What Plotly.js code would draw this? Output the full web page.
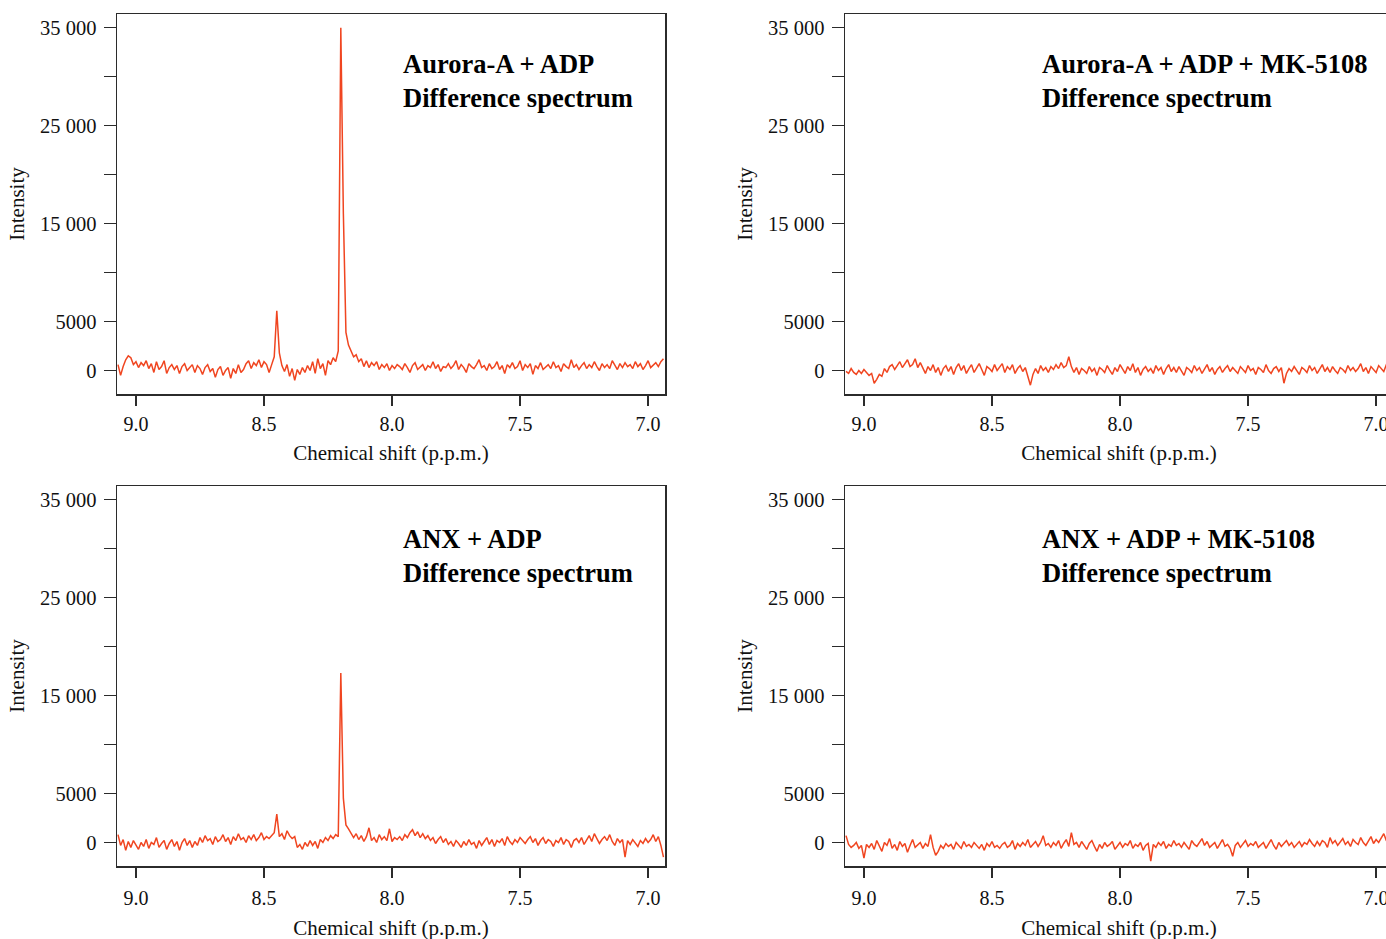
<!DOCTYPE html>
<html>
<head>
<meta charset="utf-8">
<script src="https://cdn.plot.ly/plotly-3.0.1.min.js"></script>
<style>
html,body{margin:0;padding:0;overflow:hidden;background:#fff;}
#chart{width:1400px;height:950px;}
</style>
</head>
<body>
<div id="chart"></div>
<script>
// Sampling grid of the spectra (chemical shift, p.p.m.)
const ppmStart = 9.07;
const ppmStep = 0.01;

// Panel titles
const panelTitles = [
  "Aurora-A + ADP<br>Difference spectrum",
  "Aurora-A + ADP + MK-5108<br>Difference spectrum",
  "ANX + ADP<br>Difference spectrum",
  "ANX + ADP + MK-5108<br>Difference spectrum"
];

// Intensities, one value per grid point (9.07 -> 6.94 p.p.m.)
const auroraADP = [
  600,-500,400,1100,1500,1300,600,900,300,800,
  500,1000,200,700,-200,900,100,400,1000,-300,
  300,600,100,500,-300,400,700,0,300,600,
  -200,500,200,-400,300,600,-100,200,-700,100,
  400,-500,0,300,-800,200,-300,600,-200,100,
  700,1000,200,800,500,1100,300,900,600,-200,
  600,1400,6100,1800,500,-100,600,-600,200,-1000,
  100,-400,300,-200,500,0,900,-300,1200,200,
  700,-500,1000,600,1300,900,2000,35000,16000,3900,
  2600,2000,1400,1600,900,1200,400,1000,300,800,
  500,900,100,600,300,700,0,500,200,600,
  400,100,700,300,-200,500,800,100,400,600,
  0,500,300,900,200,600,-100,400,300,700,
  200,500,1000,100,600,300,-200,700,400,200,
  600,1100,300,500,0,700,200,400,900,100,
  500,-300,600,300,800,200,400,1000,0,600,
  300,700,-400,500,200,800,100,400,600,200,
  900,300,500,-100,700,400,200,1100,300,600,
  100,500,800,200,600,300,900,400,0,700,
  300,600,200,1000,500,100,700,300,800,400,
  600,200,900,400,700,100,500,1000,300,600,
  800,400,900,1200
];

const auroraADPMK = [
  -100,-300,200,-200,-400,0,-300,100,-200,-500,
  -300,-1300,-900,-400,-600,200,-200,400,600,100,
  500,900,300,700,1100,400,600,1200,300,800,
  200,-300,400,0,600,-200,300,-500,200,500,
  -100,400,-400,300,700,0,500,-300,200,600,
  -200,300,700,100,-500,400,200,-100,600,0,
  300,700,-200,400,100,600,-300,200,500,-100,
  300,-600,-1500,-400,200,-300,500,0,300,-200,
  400,100,600,200,800,300,500,1400,400,-200,
  300,-400,200,0,-300,400,-100,200,-500,300,
  100,-200,500,0,-400,300,-100,600,200,-300,
  400,0,700,-200,300,-500,100,400,-100,200,
  -300,500,0,300,-400,200,600,-100,300,-200,
  400,0,-500,300,100,-200,500,0,300,-300,
  200,600,-100,300,-400,100,400,-200,200,500,
  -100,300,0,-300,400,100,-200,500,0,200,
  -400,300,100,-200,600,0,-300,200,400,-100,
  300,-1300,-300,200,-100,400,0,-400,300,100,
  -200,500,0,300,-300,200,600,-100,300,-200,
  400,0,-300,300,100,-200,500,0,300,-100,
  200,700,-100,300,-300,400,100,-200,500,200,
  -100,600,300,100
];

const anxADP = [
  800,-300,300,-800,100,-500,200,-300,-700,0,
  -400,300,-600,0,-200,500,-500,-100,200,-700,
  -100,300,-400,100,-800,0,400,-300,200,-500,
  100,-300,500,0,700,200,400,-200,600,100,
  300,800,100,500,-200,600,200,900,300,500,
  0,700,300,800,200,500,1000,300,600,400,
  700,1000,2900,600,900,300,1200,700,400,600,
  -500,-200,-700,0,-400,200,-300,100,-600,300,
  0,500,200,700,400,800,600,17300,4500,1800,
  1400,1000,500,900,300,700,100,600,1500,200,
  500,0,800,300,600,200,1400,100,500,300,
  600,200,800,500,1000,1300,700,1100,500,900,
  400,700,200,500,-100,300,600,0,400,-200,
  100,-400,200,-100,-500,100,-300,300,-200,0,
  -600,200,-300,100,500,-200,300,-400,200,0,
  400,-300,600,100,-200,300,0,500,200,-100,
  300,600,0,400,-300,200,500,-100,300,100,
  -400,200,0,500,-200,300,100,-500,200,400,
  0,500,-200,300,700,100,900,400,-100,300,
  600,200,800,100,-300,400,0,300,-1500,200,
  -200,300,0,-400,200,-100,400,0,300,800,
  100,600,-300,-1500
];

const anxADPMK = [
  700,-200,-500,-300,0,-600,-300,-1600,-200,-500,
  -100,-700,200,-400,-900,0,-300,400,-600,-200,
  -800,100,-400,-100,-1000,-300,300,-500,-200,0,
  -600,-100,-400,800,-500,-1300,-900,-300,-600,-100,
  -400,-200,-700,0,-300,-600,100,-400,-200,-500,
  0,-300,-600,-200,-800,-100,-400,100,-500,-300,
  -600,-200,0,-500,-300,200,-700,-100,-400,0,
  -300,300,-500,-200,100,-400,0,700,-300,-100,
  -500,0,-300,200,-600,-100,300,-400,1000,-200,
  0,-500,100,-300,-700,-100,200,-400,-900,-200,
  -600,0,-400,-200,100,-700,-300,0,-500,-100,
  -300,200,-600,-200,-400,0,-800,-300,-100,-1900,
  -200,-500,0,-300,100,-600,-200,-400,200,-300,
  -100,-500,0,-300,-700,200,-200,-400,0,400,
  -300,100,-500,-200,0,-600,-100,300,-400,-200,
  -600,-1400,-300,0,-500,-200,200,-400,-100,-300,
  100,-500,-200,0,-600,-100,300,-300,-700,0,
  -400,-100,200,-300,0,-500,-200,100,-400,0,
  -200,300,-100,-400,100,-300,200,0,-500,500,
  -100,200,-300,0,400,-200,100,-400,300,0,
  -200,500,0,-300,200,600,-100,300,0,400,
  900,200,-100,300
];

// Axis ticks
const xTickVals = [9.0, 8.5, 8.0, 7.5, 7.0];
const xTickText = ["9.0", "8.5", "8.0", "7.5", "7.0"];
const yTickVals = [0, 5000, 10000, 15000, 20000, 25000, 30000, 35000];
const yTickText = ["0", "5000", "", "15 000", "", "25 000", "", "35 000"];

const series = [auroraADP, auroraADPMK, anxADP, anxADPMK];

const W = 1400, H = 950;
const serif = "Liberation Serif, Times New Roman, serif";
const lineColor = "#F04520";
const axisColor = "#2b2b2b";

const xDomains = [[117 / W, 665 / W], [845 / W, 1393 / W]];
const yDomains = [[1 - 394 / H, 1 - 14 / H], [1 - 866 / H, 1 - 486 / H]];

const traces = series.map((vals, k) => {
  const ppm = vals.map((_, i) => +(ppmStart - ppmStep * i).toFixed(3));
  return {
    x: ppm, y: vals, type: "scatter", mode: "lines",
    xaxis: k === 0 ? "x" : "x" + (k + 1),
    yaxis: k === 0 ? "y" : "y" + (k + 1),
    line: {color: lineColor, width: 1.5},
    hoverinfo: "x+y", showlegend: false
  };
});

const layout = {
  width: W, height: H,
  margin: {l: 0, r: 0, t: 0, b: 0},
  paper_bgcolor: "#fff", plot_bgcolor: "#fff",
  font: {family: serif, size: 20, color: "#111"},
  showlegend: false,
  annotations: []
};

const titleXs = [401, 1040];
const titleYs = [47, 522];

for (let k = 0; k < 4; k++) {
  const col = k % 2, row = Math.floor(k / 2);
  const sx = k === 0 ? "" : String(k + 1);
  layout["xaxis" + sx] = {
    domain: xDomains[col],
    anchor: "y" + sx,
    range: [9.074, 6.934],
    tickmode: "array", tickvals: xTickVals, ticktext: xTickText,
    ticks: "outside", ticklen: 10, tickwidth: 1.5, tickcolor: axisColor,
    showline: true, linecolor: axisColor, linewidth: 1.5, mirror: true,
    showgrid: false, zeroline: false,
    ticklabelstandoff: row === 1 ? 3 : 1,
    tickfont: {family: serif, size: 20, color: "#111"},
    title: {text: "Chemical shift (p.p.m.)", font: {family: serif, size: 21, color: "#111"}, standoff: row === 1 ? 13 : 12}
  };
  layout["yaxis" + sx] = {
    domain: yDomains[row],
    anchor: "x" + sx,
    range: [-2400, 36400],
    tickmode: "array", tickvals: yTickVals, ticktext: yTickText,
    ticks: "outside", ticklen: 12, tickwidth: 1.5, tickcolor: axisColor,
    showline: true, linecolor: axisColor, linewidth: 1.5, mirror: true,
    showgrid: false, zeroline: false,
    ticklabelstandoff: 3,
    tickfont: {family: serif, size: 20.5, color: "#111"},
    title: {text: "Intensity", font: {family: serif, size: 21, color: "#111"}, standoff: 9}
  };
  layout.annotations.push({
    xref: "paper", yref: "paper",
    x: titleXs[col] / W, y: 1 - titleYs[row] / H,
    xanchor: "left", yanchor: "top", align: "left",
    showarrow: false,
    text: "<b>" + panelTitles[k].replace("<br>", "</b><br><b>") + "</b>",
    font: {family: serif, size: 26.5, color: "#000"}
  });
}

Plotly.newPlot("chart", traces, layout, {displayModeBar: false, staticPlot: true});
</script>
</body>
</html>
